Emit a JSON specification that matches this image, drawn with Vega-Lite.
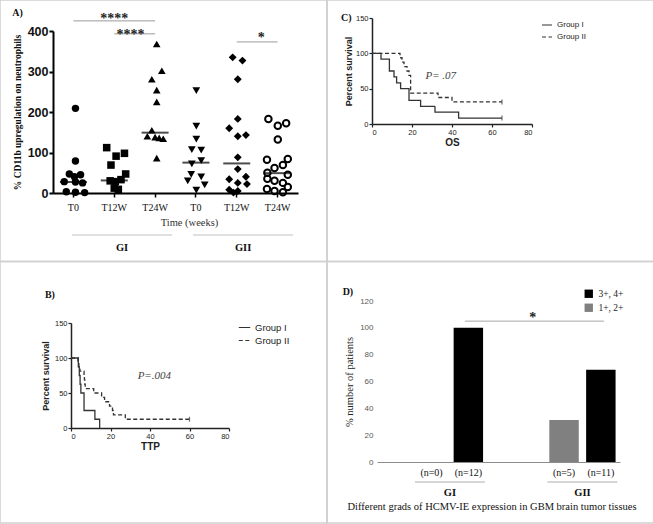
{
"$schema":"https://vega.github.io/schema/vega-lite/v6.json",
"width":653,"height":524,"padding":0,"autosize":{"type":"none"},
"background":"white",
"config":{"view":{"stroke":null},"axis":{"grid":false,"zindex":1}},
"datasets":{
 "frame":[{"c":"L","r":"T"},{"c":"R","r":"T"},{"c":"L","r":"B"},{"c":"R","r":"B"}],
 "a":[
  {"cat":"GI-T0","v":209,"j":0.1},{"cat":"GI-T0","v":79,"j":0.1},{"cat":"GI-T0","v":47,"j":-0.2},{"cat":"GI-T0","v":45,"j":0.35},{"cat":"GI-T0","v":40,"j":0.05},{"cat":"GI-T0","v":28,"j":-0.45},{"cat":"GI-T0","v":27,"j":0.1},{"cat":"GI-T0","v":25,"j":0.45},{"cat":"GI-T0","v":3,"j":-0.35},{"cat":"GI-T0","v":2,"j":0.1},{"cat":"GI-T0","v":1,"j":0.55},
  {"cat":"GI-T12W","v":112,"j":-0.37},{"cat":"GI-T12W","v":98,"j":0.5},{"cat":"GI-T12W","v":91,"j":0.09},{"cat":"GI-T12W","v":69,"j":-0.16},{"cat":"GI-T12W","v":47,"j":0.56},{"cat":"GI-T12W","v":33,"j":0.33},{"cat":"GI-T12W","v":30,"j":-0.2},{"cat":"GI-T12W","v":28,"j":0.05},{"cat":"GI-T12W","v":12,"j":0.0},{"cat":"GI-T12W","v":9,"j":0.2},
  {"cat":"GI-T24W","v":368,"j":0.08},{"cat":"GI-T24W","v":302,"j":0.33},{"cat":"GI-T24W","v":281,"j":-0.16},{"cat":"GI-T24W","v":254,"j":0.08},{"cat":"GI-T24W","v":225,"j":0.08},{"cat":"GI-T24W","v":155,"j":-0.16},{"cat":"GI-T24W","v":140,"j":-0.38},{"cat":"GI-T24W","v":138,"j":0.0},{"cat":"GI-T24W","v":136,"j":0.2},{"cat":"GI-T24W","v":134,"j":0.4},{"cat":"GI-T24W","v":86,"j":0.08},
  {"cat":"GII-T0","v":253,"j":0.02},{"cat":"GII-T0","v":165,"j":0.02},{"cat":"GII-T0","v":133,"j":0.02},{"cat":"GII-T0","v":107,"j":-0.2},{"cat":"GII-T0","v":106,"j":0.26},{"cat":"GII-T0","v":80,"j":0.26},{"cat":"GII-T0","v":72,"j":-0.2},{"cat":"GII-T0","v":46,"j":-0.23},{"cat":"GII-T0","v":40,"j":0.26},{"cat":"GII-T0","v":30,"j":-0.4},{"cat":"GII-T0","v":20,"j":0.43},{"cat":"GII-T0","v":7,"j":0.02},
  {"cat":"GII-T12W","v":335,"j":-0.2},{"cat":"GII-T12W","v":327,"j":0.28},{"cat":"GII-T12W","v":281,"j":0.05},{"cat":"GII-T12W","v":183,"j":0.05},{"cat":"GII-T12W","v":160,"j":-0.37},{"cat":"GII-T12W","v":143,"j":0.45},{"cat":"GII-T12W","v":140,"j":0.05},{"cat":"GII-T12W","v":88,"j":0.05},{"cat":"GII-T12W","v":59,"j":0.05},{"cat":"GII-T12W","v":40,"j":0.45},{"cat":"GII-T12W","v":34,"j":-0.37},{"cat":"GII-T12W","v":25,"j":0.05},{"cat":"GII-T12W","v":22,"j":0.5},{"cat":"GII-T12W","v":8,"j":-0.37},{"cat":"GII-T12W","v":5,"j":0.05},{"cat":"GII-T12W","v":1,"j":-0.16},
  {"cat":"GII-T24W","v":183,"j":-0.45},{"cat":"GII-T24W","v":172,"j":0.42},{"cat":"GII-T24W","v":166,"j":0.01},{"cat":"GII-T24W","v":132,"j":0.01},{"cat":"GII-T24W","v":84,"j":0.5},{"cat":"GII-T24W","v":82,"j":-0.52},{"cat":"GII-T24W","v":69,"j":0.26},{"cat":"GII-T24W","v":62,"j":-0.15},{"cat":"GII-T24W","v":50,"j":-0.5},{"cat":"GII-T24W","v":45,"j":0.5},{"cat":"GII-T24W","v":35,"j":-0.5},{"cat":"GII-T24W","v":30,"j":-0.15},{"cat":"GII-T24W","v":25,"j":0.26},{"cat":"GII-T24W","v":15,"j":0.5},{"cat":"GII-T24W","v":10,"j":-0.52},{"cat":"GII-T24W","v":5,"j":-0.15},{"cat":"GII-T24W","v":2,"j":0.26}
 ],
 "amed":[{"cat":"GI-T0","v":27},{"cat":"GI-T12W","v":31},{"cat":"GI-T24W","v":149},{"cat":"GII-T0","v":75},{"cat":"GII-T12W","v":73},{"cat":"GII-T24W","v":49}],
 "asig":[
  {"from":"GI-T0","to":"GI-T24W","level":425,"lab":"****","at":"GI-T12W","off":0,"tl":420},
  {"from":"GI-T12W","to":"GI-T24W","level":393,"lab":"****","at":"GI-T12W","off":0.8,"tl":380},
  {"from":"GII-T12W","to":"GII-T24W","level":373,"lab":"*","at":"GII-T12W","off":1.2,"tl":373}
 ],
 "agrp":[{"lab":"GI","at":"GI-T12W","off":0.38},{"lab":"GII","at":"GII-T12W","off":0.31}],
 "ttp":[
  {"grp":"Group I","t":0,"s":100},{"grp":"Group I","t":3.7,"s":87.5},{"grp":"Group I","t":4.2,"s":75},{"grp":"Group I","t":4.6,"s":62.5},{"grp":"Group I","t":5.0,"s":50},{"grp":"Group I","t":6.6,"s":25},{"grp":"Group I","t":12.1,"s":12.5},{"grp":"Group I","t":14.5,"s":0},
  {"grp":"Group II","t":0,"s":100},{"grp":"Group II","t":3.5,"s":93.75},{"grp":"Group II","t":4.0,"s":87.5},{"grp":"Group II","t":4.5,"s":81.25},{"grp":"Group II","t":6.6,"s":75},{"grp":"Group II","t":6.8,"s":68.75},{"grp":"Group II","t":7.0,"s":62.5},{"grp":"Group II","t":7.2,"s":56.25},{"grp":"Group II","t":11.5,"s":50},{"grp":"Group II","t":15.5,"s":43.75},{"grp":"Group II","t":17,"s":37.5},{"grp":"Group II","t":19.5,"s":31.25},{"grp":"Group II","t":21,"s":25},{"grp":"Group II","t":21.5,"s":18.75},{"grp":"Group II","t":27.5,"s":12.5},{"grp":"Group II","t":60,"s":12.5}
 ],
 "ttpcens":[{"grp":"Group II","t":60,"s":12.5}],
 "os":[
  {"grp":"Group I","t":0,"s":100},{"grp":"Group I","t":4.5,"s":91.67},{"grp":"Group I","t":8.7,"s":75},{"grp":"Group I","t":11,"s":66.67},{"grp":"Group I","t":12.3,"s":58.33},{"grp":"Group I","t":14.3,"s":50},{"grp":"Group I","t":18.5,"s":33.33},{"grp":"Group I","t":24.3,"s":25},{"grp":"Group I","t":31.5,"s":16.67},{"grp":"Group I","t":43.3,"s":8.33},{"grp":"Group I","t":65,"s":8.33},
  {"grp":"Group II","t":0,"s":100},{"grp":"Group II","t":14,"s":93.75},{"grp":"Group II","t":15,"s":87.5},{"grp":"Group II","t":16,"s":81.25},{"grp":"Group II","t":17.5,"s":75},{"grp":"Group II","t":18.5,"s":68.75},{"grp":"Group II","t":19.3,"s":43.75},{"grp":"Group II","t":33,"s":37.5},{"grp":"Group II","t":40,"s":31.25},{"grp":"Group II","t":65,"s":31.25}
 ],
 "oscens":[{"grp":"Group I","t":65,"s":8.33},{"grp":"Group II","t":65,"s":31.25}],
 "d":[
  {"group":"GI","grade":"1+, 2+","pct":0,"n":"(n=0)"},
  {"group":"GI","grade":"3+, 4+","pct":100,"n":"(n=12)"},
  {"group":"GII","grade":"1+, 2+","pct":31.25,"n":"(n=5)"},
  {"group":"GII","grade":"3+, 4+","pct":68.75,"n":"(n=11)"}
 ]
},
"layer":[
 {"data":{"name":"a"},"transform":[{"filter":"datum.cat !== 'GII-T24W'"}],
  "mark":{"type":"point","filled":true,"fill":"#000","stroke":"#000","strokeWidth":0,"opacity":1},
  "encoding":{
   "x":{"field":"cat","type":"nominal","scale":{"type":"band","domain":["GI-T0","GI-T12W","GI-T24W","GII-T0","GII-T12W","GII-T24W"],"range":[53,298],"paddingInner":0,"paddingOuter":0},
    "axis":{"orient":"bottom","offset":-331,"title":"Time (weeks)","titleX":189,"titleFont":"Liberation Serif","titleFontWeight":"normal","titleFontSize":10.5,"titleColor":"#333","titlePadding":5,"labelFont":"Liberation Serif","labelFontSize":10,"labelColor":"#111","labelPadding":5,"labelAngle":0,"labelExpr":"split(datum.label,'-')[1]","domainWidth":2,"domainColor":"#000","tickWidth":1.5,"tickSize":4,"tickColor":"#000"}},
   "xOffset":{"field":"j","type":"quantitative","scale":{"domain":[-1,1]}},
   "y":{"field":"v","type":"quantitative","scale":{"domain":[0,400],"range":[193,31],"nice":false},
    "axis":{"orient":"left","offset":-53,"values":[0,100,200,300,400],"title":"% CD11b upregulation on neutrophils","titleFont":"Liberation Serif","titleFontWeight":"bold","titleFontSize":9.5,"titleColor":"#111","titlePadding":5,"labelFont":"Liberation Sans","labelFontWeight":"bold","labelFontSize":12.5,"labelColor":"#111","labelPadding":1,"domainColor":"#000","domainWidth":2,"tickColor":"#000","tickWidth":2,"tickSize":4}},
   "shape":{"field":"cat","type":"nominal","scale":{"domain":["GI-T0","GI-T12W","GI-T24W","GII-T0","GII-T12W"],"range":["circle","square","triangle-up","triangle-down","diamond"]},"legend":null},
   "size":{"field":"cat","type":"ordinal","scale":{"domain":["GI-T0","GI-T12W","GI-T24W","GII-T0","GII-T12W"],"range":[55,62,60,60,42]},"legend":null}
  }},
 {"data":{"name":"a"},"transform":[{"filter":"datum.cat === 'GII-T24W'"}],
  "mark":{"type":"point","shape":"circle","filled":false,"stroke":"#000","strokeWidth":2,"size":42,"opacity":1},
  "encoding":{
   "x":{"field":"cat","type":"nominal","scale":{"type":"band","domain":["GI-T0","GI-T12W","GI-T24W","GII-T0","GII-T12W","GII-T24W"],"range":[53,298],"paddingInner":0,"paddingOuter":0},"axis":null},
   "xOffset":{"field":"j","type":"quantitative","scale":{"domain":[-1,1]}},
   "y":{"field":"v","type":"quantitative","scale":{"domain":[0,400],"range":[193,31],"nice":false},"axis":null}}},
 {"data":{"name":"amed"},"mark":{"type":"tick","orient":"horizontal","size":27,"thickness":2,"color":"#000"},
  "encoding":{
   "x":{"field":"cat","type":"nominal","scale":{"type":"band","domain":["GI-T0","GI-T12W","GI-T24W","GII-T0","GII-T12W","GII-T24W"],"range":[53,298],"paddingInner":0,"paddingOuter":0},"axis":null},
   "y":{"field":"v","type":"quantitative","scale":{"domain":[0,400],"range":[193,31],"nice":false},"axis":null}}},
 {"data":{"name":"asig"},"mark":{"type":"rule","color":"#9a9a9a","strokeWidth":1},
  "encoding":{
   "x":{"field":"from","type":"nominal","scale":{"type":"band","domain":["GI-T0","GI-T12W","GI-T24W","GII-T0","GII-T12W","GII-T24W"],"range":[53,298],"paddingInner":0,"paddingOuter":0},"axis":null},
   "x2":{"field":"to"},
   "y":{"field":"level","type":"quantitative","scale":{"domain":[0,400],"range":[193,31],"nice":false},"axis":null}}},
 {"data":{"name":"asig"},"mark":{"type":"text","font":"Liberation Serif","fontWeight":"bold","fontSize":14,"baseline":"alphabetic","align":"center","color":"#222"},
  "encoding":{
   "x":{"field":"at","type":"nominal","scale":{"type":"band","domain":["GI-T0","GI-T12W","GI-T24W","GII-T0","GII-T12W","GII-T24W"],"range":[53,298],"paddingInner":0,"paddingOuter":0},"axis":null},
   "xOffset":{"field":"off","type":"quantitative","scale":{"domain":[-1,1]}},
   "y":{"field":"tl","type":"quantitative","scale":{"domain":[0,400],"range":[193,31],"nice":false},"axis":null},
   "text":{"field":"lab"}}},
 {"data":{"name":"agrp"},"mark":{"type":"tick","orient":"horizontal","size":100,"thickness":1.2,"color":"#aaaaaa"},
  "encoding":{
   "x":{"field":"at","type":"nominal","scale":{"type":"band","domain":["GI-T0","GI-T12W","GI-T24W","GII-T0","GII-T12W","GII-T24W"],"range":[53,298],"paddingInner":0,"paddingOuter":0},"axis":null},
   "xOffset":{"field":"off","type":"quantitative","scale":{"domain":[-1,1]}},
   "y":{"datum":-103.7,"type":"quantitative","scale":{"domain":[0,400],"range":[193,31],"nice":false},"axis":null}}},
 {"data":{"name":"agrp"},"mark":{"type":"text","font":"Liberation Serif","fontWeight":"bold","fontSize":10.5,"baseline":"middle","align":"center","color":"#111"},
  "encoding":{
   "x":{"field":"at","type":"nominal","scale":{"type":"band","domain":["GI-T0","GI-T12W","GI-T24W","GII-T0","GII-T12W","GII-T24W"],"range":[53,298],"paddingInner":0,"paddingOuter":0},"axis":null},
   "xOffset":{"field":"off","type":"quantitative","scale":{"domain":[-1,1]}},
   "y":{"datum":-135.8,"type":"quantitative","scale":{"domain":[0,400],"range":[193,31],"nice":false},"axis":null},
   "text":{"field":"lab"}}},
 {"data":{"values":[{"lab":"A)"}]},"mark":{"type":"text","font":"Liberation Serif","fontWeight":"bold","fontSize":10,"baseline":"middle","align":"left","color":"#111"},
  "encoding":{
   "x":{"datum":"GI-T0","type":"nominal","scale":{"type":"band","domain":["GI-T0","GI-T12W","GI-T24W","GII-T0","GII-T12W","GII-T24W"],"range":[53,298],"paddingInner":0,"paddingOuter":0},"axis":null},
   "xOffset":{"datum":-3.0,"type":"quantitative","scale":{"domain":[-1,1]}},
   "y":{"datum":444,"type":"quantitative","scale":{"domain":[0,400],"range":[193,31],"nice":false},"axis":null},
   "text":{"field":"lab"}}},

 {"data":{"name":"os"},"mark":{"type":"line","interpolate":"step-after","color":"#333","strokeWidth":1.3},
  "encoding":{
   "x":{"field":"t","type":"quantitative","scale":{"domain":[0,80],"range":[372,532],"nice":false,"zero":false},
    "axis":{"orient":"bottom","offset":-400,"values":[0,20,40,60,80],"title":"OS","titleFont":"Liberation Sans","titleFontWeight":"bold","titleFontSize":10,"titleColor":"#222222","titlePadding":2,"labelFont":"Liberation Sans","labelFontSize":7.5,"labelColor":"#222","labelPadding":1,"domainColor":"#222","domainWidth":1.5,"tickColor":"#222","tickWidth":1.2,"tickSize":3}},
   "y":{"field":"s","type":"quantitative","scale":{"domain":[0,150],"range":[124,18],"nice":false},
    "axis":{"orient":"left","offset":-372,"values":[0,50,100,150],"title":"Percent survival","titleFont":"Liberation Sans","titleFontWeight":"bold","titleFontSize":9,"titleColor":"#222","titlePadding":2,"labelFont":"Liberation Sans","labelFontSize":7.5,"labelColor":"#222","labelPadding":1,"domainColor":"#222","domainWidth":1.5,"tickColor":"#222","tickWidth":1.2,"tickSize":3}},
   "strokeDash":{"field":"grp","type":"nominal","scale":{"domain":["Group I","Group II"],"range":[[1,0],[4,2.5]]},
    "legend":{"orient":"none","legendX":541,"legendY":19,"title":null,"symbolType":"stroke","symbolStrokeColor":"#333","symbolStrokeWidth":1.2,"symbolSize":100,"labelFont":"Liberation Sans","labelFontSize":8,"labelColor":"#222","rowPadding":2,"labelOffset":4}}
  }},
 {"data":{"name":"oscens"},"mark":{"type":"tick","orient":"vertical","size":5,"thickness":1.2,"color":"#333"},
  "encoding":{
   "x":{"field":"t","type":"quantitative","scale":{"domain":[0,80],"range":[372,532],"nice":false,"zero":false},"axis":null},
   "y":{"field":"s","type":"quantitative","scale":{"domain":[0,150],"range":[124,18],"nice":false},"axis":null}}},
 {"data":{"values":[{"lab":"P= .07"}]},"mark":{"type":"text","font":"Liberation Serif","fontStyle":"italic","fontSize":11,"color":"#444","baseline":"middle","align":"center"},
  "encoding":{
   "x":{"datum":34.4,"type":"quantitative","scale":{"domain":[0,80],"range":[372,532],"nice":false,"zero":false},"axis":null},
   "y":{"datum":68,"type":"quantitative","scale":{"domain":[0,150],"range":[124,18],"nice":false},"axis":null},
   "text":{"field":"lab"}}},
 {"data":{"values":[{"lab":"C)"}]},"mark":{"type":"text","font":"Liberation Serif","fontWeight":"bold","fontSize":10,"color":"#111","baseline":"middle","align":"left"},
  "encoding":{
   "x":{"datum":-15.5,"type":"quantitative","scale":{"domain":[0,80],"range":[372,532],"nice":false,"zero":false},"axis":null},
   "y":{"datum":150,"type":"quantitative","scale":{"domain":[0,150],"range":[124,18],"nice":false},"axis":null},
   "text":{"field":"lab"}}},

 {"data":{"name":"ttp"},"mark":{"type":"line","interpolate":"step-after","color":"#333","strokeWidth":1.3},
  "encoding":{
   "x":{"field":"t","type":"quantitative","scale":{"domain":[0,80],"range":[71,229],"nice":false,"zero":false},
    "axis":{"orient":"bottom","offset":-96,"values":[0,20,40,60,80],"title":"TTP","titleFont":"Liberation Sans","titleFontWeight":"bold","titleFontSize":10,"titleColor":"#222222","titlePadding":2,"labelFont":"Liberation Sans","labelFontSize":7.5,"labelColor":"#222","labelPadding":1,"domainColor":"#222","domainWidth":1.5,"tickColor":"#222","tickWidth":1.2,"tickSize":3}},
   "y":{"field":"s","type":"quantitative","scale":{"domain":[0,150],"range":[428,323],"nice":false},
    "axis":{"orient":"left","offset":-71,"values":[0,50,100,150],"title":"Percent survival","titleFont":"Liberation Sans","titleFontWeight":"bold","titleFontSize":9,"titleColor":"#222","titlePadding":4,"labelFont":"Liberation Sans","labelFontSize":7.5,"labelColor":"#222","labelPadding":1,"domainColor":"#222","domainWidth":1.5,"tickColor":"#222","tickWidth":1.2,"tickSize":3}},
   "strokeDash":{"field":"grp","type":"nominal","scale":{"domain":["Group I","Group II"],"range":[[1,0],[4,2.5]]},
    "legend":{"orient":"none","legendX":238,"legendY":321,"title":null,"symbolType":"stroke","symbolStrokeColor":"#333","symbolStrokeWidth":1.2,"symbolSize":130,"labelFont":"Liberation Sans","labelFontSize":9.5,"labelColor":"#222","rowPadding":2,"labelOffset":4}}
  }},
 {"data":{"name":"ttpcens"},"mark":{"type":"tick","orient":"vertical","size":5,"thickness":1.2,"color":"#333"},
  "encoding":{
   "x":{"field":"t","type":"quantitative","scale":{"domain":[0,80],"range":[71,229],"nice":false,"zero":false},"axis":null},
   "y":{"field":"s","type":"quantitative","scale":{"domain":[0,150],"range":[428,323],"nice":false},"axis":null}}},
 {"data":{"values":[{"lab":"P=.004"}]},"mark":{"type":"text","font":"Liberation Serif","fontStyle":"italic","fontSize":11,"color":"#444","baseline":"middle","align":"center"},
  "encoding":{
   "x":{"datum":42.2,"type":"quantitative","scale":{"domain":[0,80],"range":[71,229],"nice":false,"zero":false},"axis":null},
   "y":{"datum":74.3,"type":"quantitative","scale":{"domain":[0,150],"range":[428,323],"nice":false},"axis":null},
   "text":{"field":"lab"}}},
 {"data":{"values":[{"lab":"B)"}]},"mark":{"type":"text","font":"Liberation Serif","fontWeight":"bold","fontSize":10,"color":"#111","baseline":"middle","align":"left"},
  "encoding":{
   "x":{"datum":-13.2,"type":"quantitative","scale":{"domain":[0,80],"range":[71,229],"nice":false,"zero":false},"axis":null},
   "y":{"datum":190,"type":"quantitative","scale":{"domain":[0,150],"range":[428,323],"nice":false},"axis":null},
   "text":{"field":"lab"}}},

 {"data":{"name":"d"},"mark":{"type":"bar"},
  "encoding":{
   "x":{"field":"group","type":"nominal","scale":{"type":"band","domain":["GI","GII"],"range":[377,620],"paddingInner":0.5,"paddingOuter":0.167,"align":0.9},
    "axis":{"orient":"bottom","offset":-62,"labels":false,"ticks":false,"domain":true,"domainColor":"#8c8c8c","domainWidth":1,"title":"Different grads of HCMV-IE expression in GBM brain tumor tissues","titleX":491.5,"titleFont":"Liberation Serif","titleFontWeight":"normal","titleFontSize":10.5,"titleColor":"#111","titlePadding":39}},
   "xOffset":{"field":"grade","type":"nominal","scale":{"type":"band","domain":["1+, 2+","3+, 4+"],"paddingInner":0.2,"paddingOuter":0}},
   "y":{"field":"pct","type":"quantitative","scale":{"domain":[0,120],"range":[462,301],"nice":false},
    "axis":{"orient":"left","offset":-377,"values":[0,20,40,60,80,100,120],"domain":false,"ticks":false,"title":"% number of patients","titleFont":"Liberation Serif","titleFontWeight":"normal","titleFontSize":10.5,"titleColor":"#222","titlePadding":5,"labelFont":"Liberation Sans","labelFontSize":8,"labelColor":"#595959","labelPadding":4}},
   "color":{"field":"grade","type":"nominal","scale":{"domain":["3+, 4+","1+, 2+"],"range":["#000000","#808080"]},
    "legend":{"orient":"none","legendX":584,"legendY":289,"title":null,"symbolType":"square","symbolSize":70,"symbolStrokeWidth":0,"labelFont":"Liberation Serif","labelFontSize":9.5,"labelColor":"#222","rowPadding":3,"labelOffset":5}}
  }},
 {"data":{"name":"d"},"mark":{"type":"text","font":"Liberation Serif","fontSize":10,"color":"#111","baseline":"middle","align":"center"},
  "encoding":{
   "x":{"field":"group","type":"nominal","scale":{"type":"band","domain":["GI","GII"],"range":[377,620],"paddingInner":0.5,"paddingOuter":0.167,"align":0.9},"axis":null},
   "xOffset":{"field":"grade","type":"nominal","scale":{"type":"band","domain":["1+, 2+","3+, 4+"],"paddingInner":0.2,"paddingOuter":0}},
   "y":{"datum":-8.2,"type":"quantitative","scale":{"domain":[0,120],"range":[462,301],"nice":false},"axis":null},
   "text":{"field":"n"}}},
 {"data":{"values":[{"group":"GI"},{"group":"GII"}]},"mark":{"type":"tick","orient":"horizontal","size":70,"thickness":1,"color":"#8c8c8c"},
  "encoding":{
   "x":{"field":"group","type":"nominal","scale":{"type":"band","domain":["GI","GII"],"range":[377,620],"paddingInner":0.5,"paddingOuter":0.167,"align":0.9},"axis":null},
   "y":{"datum":-14.9,"type":"quantitative","scale":{"domain":[0,120],"range":[462,301],"nice":false},"axis":null}}},
 {"data":{"values":[{"group":"GI"},{"group":"GII"}]},"mark":{"type":"text","font":"Liberation Serif","fontWeight":"bold","fontSize":10.5,"color":"#111","baseline":"middle","align":"center"},
  "encoding":{
   "x":{"field":"group","type":"nominal","scale":{"type":"band","domain":["GI","GII"],"range":[377,620],"paddingInner":0.5,"paddingOuter":0.167,"align":0.9},"axis":null},
   "y":{"datum":-23.1,"type":"quantitative","scale":{"domain":[0,120],"range":[462,301],"nice":false},"axis":null},
   "text":{"field":"group"}}},
 {"data":{"values":[{"g1":"GI","g2":"GII"}]},"mark":{"type":"rule","color":"#a6a6a6","strokeWidth":1},
  "encoding":{
   "x":{"field":"g1","type":"nominal","bandPosition":0.726,"scale":{"type":"band","domain":["GI","GII"],"range":[377,620],"paddingInner":0.5,"paddingOuter":0.167,"align":0.9},"axis":null},
   "x2":{"field":"g2","bandPosition":0.824},
   "y":{"datum":105,"type":"quantitative","scale":{"domain":[0,120],"range":[462,301],"nice":false},"axis":null}}},
 {"data":{"values":[{"lab":"*"}]},"mark":{"type":"text","font":"Liberation Serif","fontWeight":"bold","fontSize":14,"color":"#222","baseline":"alphabetic","align":"center"},
  "encoding":{
   "x":{"datum":"GI","type":"nominal","bandPosition":1.75,"scale":{"type":"band","domain":["GI","GII"],"range":[377,620],"paddingInner":0.5,"paddingOuter":0.167,"align":0.9},"axis":null},
   "y":{"datum":104.5,"type":"quantitative","scale":{"domain":[0,120],"range":[462,301],"nice":false},"axis":null},
   "text":{"field":"lab"}}},
 {"data":{"values":[{"lab":"D)"}]},"mark":{"type":"text","font":"Liberation Serif","fontWeight":"bold","fontSize":10,"color":"#111","baseline":"middle","align":"left"},
  "encoding":{
   "x":{"datum":"GI","type":"nominal","bandPosition":-1.12,"scale":{"type":"band","domain":["GI","GII"],"range":[377,620],"paddingInner":0.5,"paddingOuter":0.167,"align":0.9},"axis":null},
   "y":{"datum":126.7,"type":"quantitative","scale":{"domain":[0,120],"range":[462,301],"nice":false},"axis":null},
   "text":{"field":"lab"}}},

 {"data":{"name":"frame"},"mark":{"type":"rect","fill":"#ffffff","fillOpacity":0,"stroke":"#d0d0d0","strokeWidth":1.5},
  "encoding":{
   "x":{"field":"c","type":"nominal","scale":{"type":"band","domain":["L","R"],"range":[0,654],"paddingInner":0,"paddingOuter":0},"axis":null},
   "y":{"field":"r","type":"nominal","scale":{"type":"band","domain":["T","B"],"range":[0,523],"paddingInner":0,"paddingOuter":0},"axis":null}}}
],
"resolve":{
 "scale":{"x":"independent","y":"independent","xOffset":"independent","shape":"independent","size":"independent","strokeDash":"independent","color":"independent"},
 "axis":{"x":"independent","y":"independent"},
 "legend":{"strokeDash":"independent","color":"independent","shape":"independent","size":"independent"}
}
}
